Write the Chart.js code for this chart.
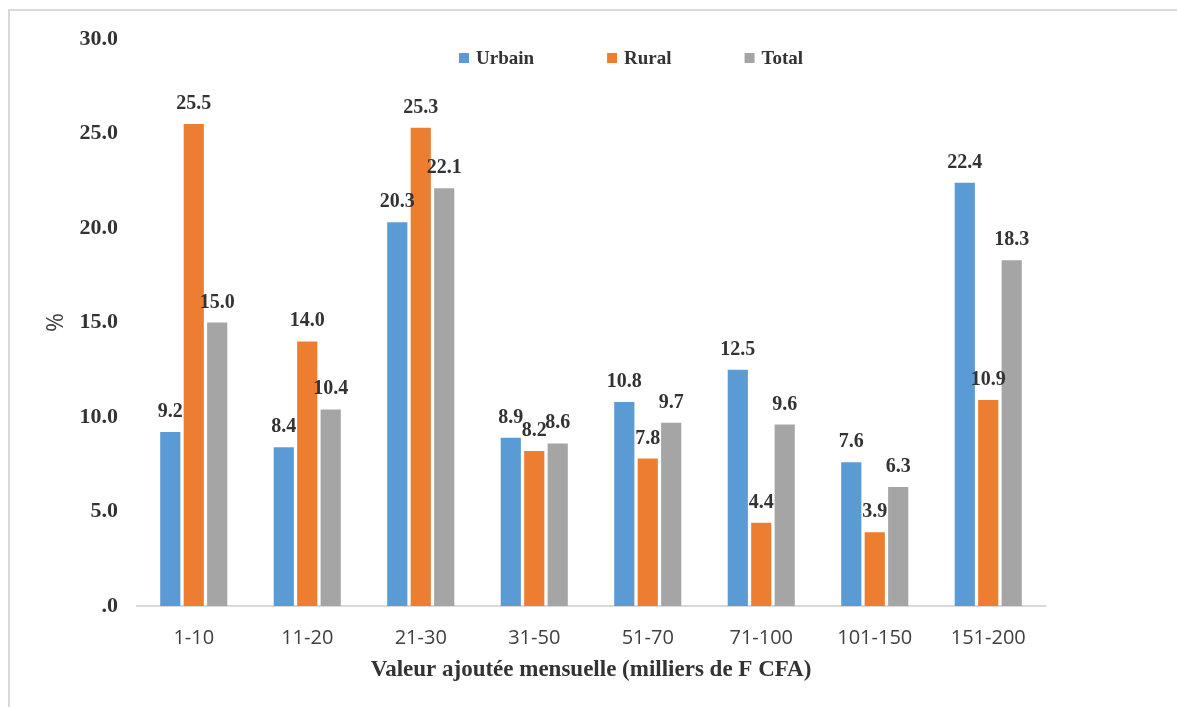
<!DOCTYPE html>
<html>
<head>
<meta charset="utf-8">
<script src="https://cdn.jsdelivr.net/npm/chart.js@4"></script>
<style>
  html, body { margin: 0; padding: 0; background: #fff; }
  #wrap { position: relative; width: 1177px; height: 707px; overflow: hidden; }
  #frame {
    position: absolute; left: 8px; top: 9px; width: 1300px; height: 900px;
    border-top: 2px solid #d9d9d9; border-left: 2px solid #d9d9d9;
  }
  #chart { position: absolute; left: 0; top: 0; }
</style>
</head>
<body>
<div id="wrap">
  <div id="frame"></div>
  <canvas id="chart" width="1177" height="707"></canvas>
</div>
<script>
const categories = ["1-10", "11-20", "21-30", "31-50", "51-70", "71-100", "101-150", "151-200"]
const urbain = [9.2, 8.4, 20.3, 8.9, 10.8, 12.5, 7.6, 22.4]
const rural = [25.5, 14.0, 25.3, 8.2, 7.8, 4.4, 3.9, 10.9]
const total = [15.0, 10.4, 22.1, 8.6, 9.7, 9.6, 6.3, 18.3]

const serif = "'Liberation Serif', 'Times New Roman', serif"

// value printed above every bar
const barValues = {
  id: "barValues",
  afterDatasetsDraw(chart) {
    const ctx = chart.ctx
    ctx.save()
    ctx.font = "bold 20px " + serif
    ctx.fillStyle = "#333"
    ctx.textAlign = "center"
    ctx.textBaseline = "alphabetic"
    chart.data.datasets.forEach((ds, i) => {
      chart.getDatasetMeta(i).data.forEach((bar, j) => {
        ctx.fillText(ds.data[j].toFixed(1), bar.x, bar.y - 15)
      })
    })
    ctx.restore()
  },
}

// legend row, placed right of center like the original sheet
const topLegend = {
  id: "topLegend",
  afterDraw(chart) {
    const ctx = chart.ctx
    ctx.save()
    ctx.font = "bold 19px " + serif
    ctx.textBaseline = "middle"
    ctx.textAlign = "left"
    let x = 459
    const y = 58
    chart.data.datasets.forEach((ds) => {
      ctx.fillStyle = ds.backgroundColor
      ctx.fillRect(x, y - 5, 10, 10)
      ctx.fillStyle = "#333"
      ctx.fillText(ds.label, x + 17, y + 1)
      x += 17 + ctx.measureText(ds.label).width + 73
    })
    ctx.restore()
  },
}

const data = {
  labels: categories,
  datasets: [
    { label: "Urbain", data: urbain, backgroundColor: "#5b9bd5" },
    { label: "Rural", data: rural, backgroundColor: "#ed7d31" },
    { label: "Total", data: total, backgroundColor: "#a5a5a5" },
  ],
}

const config = {
  type: "bar",
  data: data,
  options: {
    responsive: false,
    animation: false,
    categoryPercentage: 0.62,
    barPercentage: 0.86,
    layout: {
      padding: { top: 39, right: 132, bottom: 0, left: 0 },
    },
    plugins: {
      legend: { display: false },
      tooltip: { enabled: false },
    },
    scales: {
      x: {
        grid: { display: false },
        border: { color: "#d9d9d9", width: 2 },
        ticks: {
          color: "#404040",
          padding: 12,
          font: { family: "'Open Sans', sans-serif", size: 20 },
        },
        title: {
          display: true,
          text: "Valeur ajoutée mensuelle (milliers de F CFA)",
          color: "#333",
          font: { family: serif, size: 23, weight: "bold" },
          padding: { top: 0, bottom: 23 },
        },
        afterFit(scale) {
          scale.height = 101
        },
      },
      y: {
        min: 0,
        max: 30,
        grid: { display: false },
        border: { display: false },
        ticks: {
          stepSize: 5,
          color: "#333",
          padding: 11,
          font: { family: serif, size: 22, weight: "bold" },
          callback: (v) => (v === 0 ? ".0" : v.toFixed(1)),
        },
        title: {
          display: true,
          text: "%",
          color: "#404040",
          font: { family: "'Open Sans', sans-serif", size: 23 },
          padding: { top: 43, bottom: 0 },
        },
        afterFit(scale) {
          scale.width = 137
        },
      },
    },
  },
  plugins: [barValues, topLegend],
}

const myChart = new Chart(document.getElementById("chart"), config)
</script>
</body>
</html>
